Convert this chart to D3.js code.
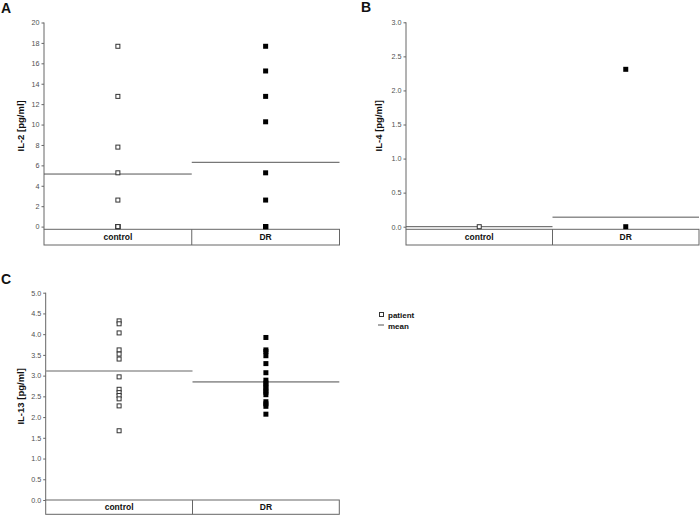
<!DOCTYPE html>
<html>
<head>
<meta charset="utf-8">
<script src="https://cdn.jsdelivr.net/npm/d3@7"></script>
<style>
  html, body { margin: 0; padding: 0; background: #fff; }
  svg { display: block; font-family: "Liberation Sans", Arial, sans-serif; }
</style>
</head>
<body>
<svg id="chart" width="700" height="515"></svg>
<script>
// ---- data ----
const categories = ["control", "DR"];

const il2Control = [17.67, 12.76, 7.79, 5.27, 2.6, 0, 0, 0, 0];
const il2DR = [17.67, 15.25, 12.76, 10.27, 5.27, 2.6, 0, 0, 0, 0];
const il2Means = [5.15, 6.3];
const il2Ticks = [0, 2, 4, 6, 8, 10, 12, 14, 16, 18, 20];

const il4Control = [0];
const il4DR = [2.31, 0];
const il4Means = [0, 0.14];
const il4Ticks = [0, 0.5, 1.0, 1.5, 2.0, 2.5, 3.0];

const il13Control = [4.32, 4.25, 4.03, 3.62, 3.52, 3.40, 2.97, 2.67, 2.59, 2.52, 2.44, 2.27, 1.67];
const il13DR = [3.92, 3.62, 3.58, 3.48, 3.29, 3.07, 2.89, 2.82, 2.77, 2.71, 2.65, 2.60, 2.54, 2.37, 2.32, 2.26, 2.07];
const il13Means = [3.11, 2.85];
const il13Ticks = [0, 0.5, 1.0, 1.5, 2.0, 2.5, 3.0, 3.5, 4.0, 4.5, 5.0];

const svg = d3.select("#chart");

function panel(o) {
  const g = svg.append("g");
  const x = d3.scaleBand().domain(categories).range([o.left, o.right]);
  const y = d3.scaleLinear().domain([0, o.max]).range([o.y0, o.yTop]);

  // panel letter
  g.append("text").attr("x", o.letterX).attr("y", o.letterY)
    .attr("font-size", 14).attr("font-weight", "bold").attr("fill", "#111")
    .text(o.letter);

  // y axis
  const ax = g.append("g").attr("transform", `translate(${o.left},0)`)
    .style("color", "#666")
    .call(d3.axisLeft(y).tickValues(o.ticks).tickFormat(o.fmt).tickSize(2.5).tickPadding(2).tickSizeOuter(0));
  ax.select(".domain").remove();
  ax.selectAll(".tick line").attr("stroke", "#666");
  ax.selectAll(".tick text").attr("fill", "#505050").attr("font-size", 7.2)
    .attr("font-family", "Liberation Sans, Arial, sans-serif");
  g.append("line").attr("x1", o.left).attr("x2", o.left)
    .attr("y1", o.yTop).attr("y2", o.bottom).attr("stroke", "#666").attr("stroke-width", 1);

  // y title
  g.append("text")
    .attr("transform", `translate(${o.titleX},${(o.yTop + o.bottom) / 2}) rotate(-90)`)
    .attr("text-anchor", "middle").attr("dy", "0.35em")
    .attr("font-size", 9.5).attr("font-weight", "bold").attr("fill", "#111")
    .text(o.title);

  // category box
  g.append("rect").attr("x", o.left).attr("y", o.bottom)
    .attr("width", o.right - o.left).attr("height", o.boxBottom - o.bottom)
    .attr("fill", "none").attr("stroke", "#666").attr("stroke-width", 1);
  g.append("line").attr("x1", x("DR")).attr("x2", x("DR"))
    .attr("y1", o.bottom).attr("y2", o.boxBottom).attr("stroke", "#666");
  g.selectAll(".cat").data(categories).join("text")
    .attr("x", d => x(d) + x.bandwidth() / 2)
    .attr("y", (o.bottom + o.boxBottom) / 2).attr("dy", "0.35em")
    .attr("text-anchor", "middle").attr("font-size", 8.5).attr("font-weight", "bold").attr("fill", "#111")
    .text(d => d);

  // mean lines
  g.selectAll(".mean").data(o.means).join("line")
    .attr("x1", (d, i) => x(categories[i]))
    .attr("x2", (d, i) => x(categories[i]) + x.bandwidth())
    .attr("y1", d => y(d)).attr("y2", d => y(d))
    .attr("stroke", o.meanColor).attr("stroke-width", o.meanWidth);

  // points
  const s = 5;
  const cx = c => x(c) + x.bandwidth() / 2;
  g.selectAll(".pc").data(o.control).join("rect")
    .attr("x", cx("control") - s / 2 + 0.5).attr("y", d => y(d) - s / 2 + 0.5)
    .attr("width", s - 1).attr("height", s - 1)
    .attr("fill", "#fff").attr("stroke", "#333").attr("stroke-width", 1);
  g.selectAll(".pd").data(o.dr).join("rect")
    .attr("x", cx("DR") - s / 2).attr("y", d => y(d) - s / 2)
    .attr("width", s).attr("height", s)
    .attr("fill", "#000");
}

panel({
  letter: "A", letterX: 1, letterY: 13,
  left: 44, right: 339.5, yTop: 22.5, y0: 226.6, bottom: 229.3, boxBottom: 245,
  max: 20, ticks: il2Ticks, fmt: d3.format("d"),
  title: "IL-2 [pg/ml]", titleX: 20.5,
  control: il2Control, dr: il2DR, means: il2Means, meanColor: "#555", meanWidth: 1
});

panel({
  letter: "B", letterX: 361, letterY: 12,
  left: 406, right: 699, yTop: 22.3, y0: 226.7, bottom: 229.3, boxBottom: 245,
  max: 3, ticks: il4Ticks, fmt: d3.format(".1f"),
  title: "IL-4 [pg/ml]", titleX: 378.5,
  control: il4Control, dr: il4DR, means: il4Means, meanColor: "#555", meanWidth: 1
});

panel({
  letter: "C", letterX: 1, letterY: 284,
  left: 45.7, right: 339.3, yTop: 292.7, y0: 500, bottom: 500, boxBottom: 514.3,
  max: 5, ticks: il13Ticks, fmt: d3.format(".1f"),
  title: "IL-13 [pg/ml]", titleX: 21,
  control: il13Control, dr: il13DR, means: il13Means, meanColor: "#999", meanWidth: 1.6
});

// legend
const lg = svg.append("g");
lg.append("rect").attr("x", 379.5).attr("y", 312.5).attr("width", 4).attr("height", 4)
  .attr("fill", "#fff").attr("stroke", "#333");
lg.append("text").attr("x", 388).attr("y", 318).attr("font-size", 8).attr("font-weight", "bold")
  .attr("fill", "#111").text("patient");
lg.append("line").attr("x1", 378).attr("x2", 384).attr("y1", 325).attr("y2", 325)
  .attr("stroke", "#555").attr("stroke-width", 1);
lg.append("text").attr("x", 388).attr("y", 328.5).attr("font-size", 8).attr("font-weight", "bold")
  .attr("fill", "#111").text("mean");
</script>
</body>
</html>
